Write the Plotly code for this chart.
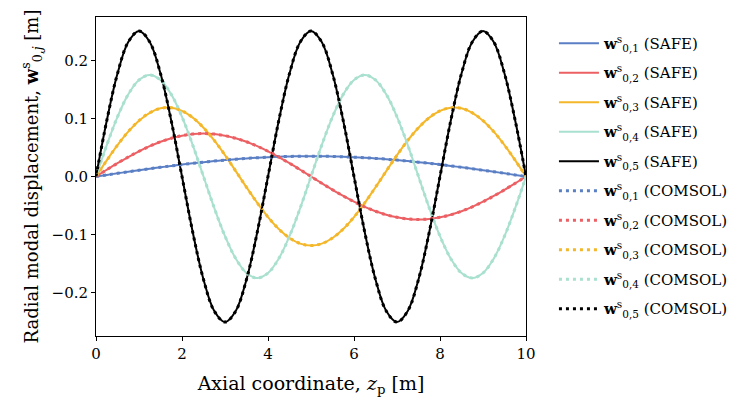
import plotly.graph_objects as go

z = [i * 0.25 for i in range(41)]

w1 = [0, .0027, .0055, .0082, .0108, .0134, .0159, .0183, .0206, .0227, .0247, .0266, .0283, .0298, .0312, .0323, .0333, .0340, .0346, .0349, .0350,
      .0349, .0346, .0340, .0333, .0323, .0312, .0298, .0283, .0266, .0247, .0227, .0206, .0183, .0159, .0134, .0108, .0082, .0055, .0027, 0]
w2 = [0, .0116, .0229, .0336, .0435, .0523, .0599, .0659, .0704, .0731, .0740, .0731, .0704, .0659, .0599, .0523, .0435, .0336, .0229, .0116, 0,
      -.0116, -.0229, -.0336, -.0435, -.0523, -.0599, -.0659, -.0704, -.0731, -.0740, -.0731, -.0704, -.0659, -.0599, -.0523, -.0435, -.0336, -.0229, -.0116, 0]
w3 = [0, .0278, .0540, .0773, .0963, .1099, .1175, .1186, .1132, .1015, .0841, .0622, .0368, .0093, -.0186, -.0455, -.0699, -.0905, -.1060, -.1157, -.1190,
      -.1157, -.1060, -.0905, -.0699, -.0455, -.0186, .0093, .0368, .0622, .0841, .1015, .1132, .1186, .1175, .1099, .0963, .0773, .0540, .0278, 0]
w4 = [0, .0541, .1029, .1416, .1664, .1750, .1664, .1416, .1029, .0541, 0, -.0541, -.1029, -.1416, -.1664, -.1750, -.1664, -.1416, -.1029, -.0541, 0,
      .0541, .1029, .1416, .1664, .1750, .1664, .1416, .1029, .0541, 0, -.0541, -.1029, -.1416, -.1664, -.1750, -.1664, -.1416, -.1029, -.0541, 0]
w5 = [0, .0961, .1775, .2319, .2510, .2319, .1775, .0961, 0, -.0961, -.1775, -.2319, -.2510, -.2319, -.1775, -.0961,
      0, .0961, .1775, .2319, .2510, .2319, .1775, .0961, 0, -.0961, -.1775, -.2319, -.2510, -.2319, -.1775, -.0961,
      0, .0961, .1775, .2319, .2510, .2319, .1775, .0961, 0]

series = [w1, w2, w3, w4, w5]
labels = ["0,1", "0,2", "0,3", "0,4", "0,5"]
colors = ["#5b7fc4", "#ec5f63", "#f4b72a", "#a9e0cf", "#000000"]

FONT = "DejaVu Serif"

fig = go.Figure()
k = 0
for s, lab, c in zip(series, labels, colors):
    fig.add_trace(go.Scatter(x=z, y=s, mode="lines", line=dict(color=c, width=2, shape="spline"),
                             legendgroup=f"g{k}",
                             name=f"<b>w</b><sup>s</sup><sub>{lab}</sub> (SAFE)"))
    k += 1
for s, lab, c in zip(series, labels, colors):
    fig.add_trace(go.Scatter(x=z, y=s, mode="lines", line=dict(color=c, width=3, shape="spline", dash="3px,4px"),
                             legendgroup=f"g{k}",
                             name=f"<b>w</b><sup>s</sup><sub>{lab}</sub> (COMSOL)"))
    k += 1

axis_common = dict(showgrid=False, zeroline=False, showline=True, linecolor="black", linewidth=1,
                   mirror=True, ticks="outside", ticklen=4, tickcolor="black",
                   tickfont=dict(family=FONT, size=15, color="black"))

fig.update_layout(
    width=735, height=407,
    margin=dict(l=88, r=217, t=9, b=79),
    plot_bgcolor="white", paper_bgcolor="white",
    font=dict(family=FONT, color="black"),
    xaxis=dict(range=[0, 10], tickvals=[0, 2, 4, 6, 8, 10],
               title=dict(text="Axial coordinate, <i>z</i><sub>p</sub> [m]", font=dict(size=19, family=FONT), standoff=14),
               **axis_common),
    yaxis=dict(range=[-0.275, 0.275], tickvals=[-0.2, -0.1, 0, 0.1, 0.2], tickformat=".1f",
               title=dict(text="Radial modal displacement, <b>w</b><sup>s</sup><sub>0,<i>j</i></sub> [m]",
                          font=dict(size=18, family=FONT), standoff=8),
               **axis_common),
    legend=dict(x=1.065, y=0.969, xanchor="left", yanchor="top", font=dict(family=FONT, size=15),
                bgcolor="rgba(0,0,0,0)", tracegroupgap=7, traceorder="grouped", itemwidth=40),
    showlegend=True,
)

fig.write_html("out.html")
